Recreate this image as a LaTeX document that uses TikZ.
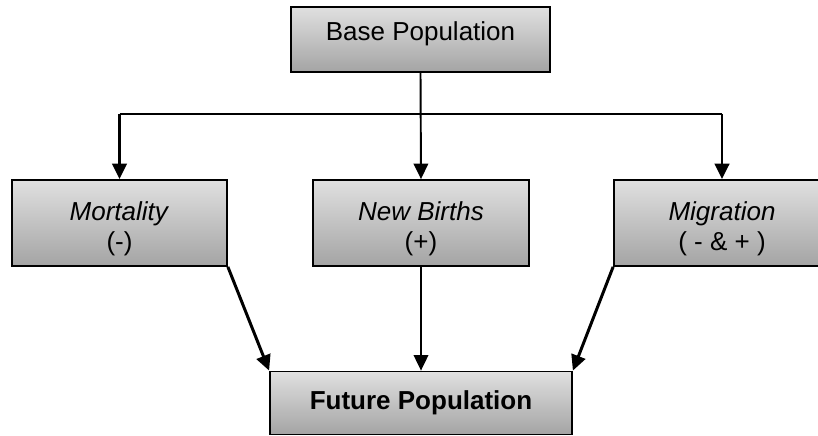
\documentclass[tikz,border=0pt]{standalone}
\usepackage{fontspec}
\setmainfont{Liberation Sans}
\definecolor{boxtop}{RGB}{224,224,224}
\definecolor{boxbot}{RGB}{164,164,164}
\usetikzlibrary{arrows.meta,positioning}

\newcommand{\tallstrut}{\rule{0pt}{0.62cm}}

\tikzset{
  stagebox/.style={draw=black, line width=1pt, top color=boxtop, bottom color=boxbot,
                   inner sep=0pt, align=center, font=\fontsize{14.8}{17}\selectfont},
  factorbox/.style={stagebox, minimum width=4.32cm, minimum height=1.72cm},
  flowthin/.style={line width=1.1pt},
  flowthick/.style={line width=1.7pt},
  tip/.style={-{Triangle[length=0.31cm,width=0.29cm]}}
}

\begin{document}
\begin{tikzpicture}
\useasboundingbox (0,0) rectangle (16.36,8.72);

% --- Boxes ---
\node[stagebox, minimum width=5.18cm, minimum height=1.30cm, text depth=0.32cm]
      (base) at (8.41,7.93) {Base Population};

\node[factorbox, minimum width=4.30cm] (mort) at (2.39,4.26) {\tallstrut\textit{Mortality}\\(-)};
\node[factorbox] (births) at (8.42,4.26) {\tallstrut\textit{New Births}\\(+)};
\node[factorbox] (migr) at (14.44,4.26) {\tallstrut\textit{Migration}\\( - \& + )};

\node[stagebox, minimum width=6.04cm, minimum height=1.26cm, font=\fontsize{14.8}{17}\selectfont\bfseries]
      (future) at (8.42,0.66) {Future Population};

% --- Split from base ---
\coordinate (hub) at (8.42,6.44);
\draw[flowthin] (mort.north |- hub) -- (migr.north |- hub);
\draw[flowthin, tip] (base.south) -- (births.north);
\draw[flowthick, tip] (mort.north |- hub) -- (mort.north);
\draw[flowthick, tip] (migr.north |- hub) -- (migr.north);

% --- Into future population ---
\draw[flowthick, tip] (mort.south east) -- (future.north west);
\draw[flowthin, tip] (births.south) -- (future.north);
\draw[flowthick, tip] (migr.south west) -- (future.north east);

\end{tikzpicture}
\end{document}
